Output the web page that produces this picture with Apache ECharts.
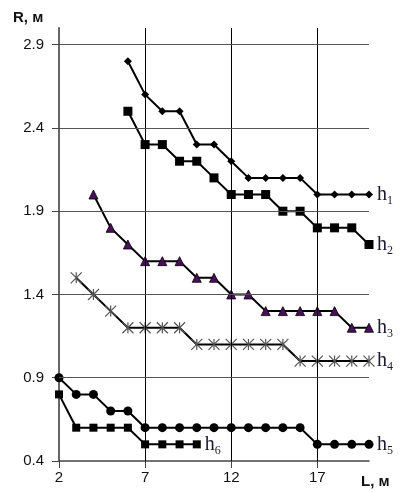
<!DOCTYPE html>
<html>
<head>
<meta charset="utf-8">
<script src="https://cdn.jsdelivr.net/npm/echarts@6/dist/echarts.min.js"></script>
<style>html,body{margin:0;padding:0;background:#fff;}#c{width:403px;height:493px;}</style>
</head>
<body>
<div id="c"></div>
<script>
const xTickLabels = [2, 7, 12, 17];
const yTickLabels = [0.4, 0.9, 1.4, 1.9, 2.4, 2.9];

const h1X = [6, 7, 8, 9, 10, 11, 12, 13, 14, 15, 16, 17, 18, 19, 20];
const h1Y = [2.8, 2.6, 2.5, 2.5, 2.3, 2.3, 2.2, 2.1, 2.1, 2.1, 2.1, 2.0, 2.0, 2.0, 2.0];

const h2X = [6, 7, 8, 9, 10, 11, 12, 13, 14, 15, 16, 17, 18, 19, 20];
const h2Y = [2.5, 2.3, 2.3, 2.2, 2.2, 2.1, 2.0, 2.0, 2.0, 1.9, 1.9, 1.8, 1.8, 1.8, 1.7];

const h3X = [4, 5, 6, 7, 8, 9, 10, 11, 12, 13, 14, 15, 16, 17, 18, 19, 20];
const h3Y = [2.0, 1.8, 1.7, 1.6, 1.6, 1.6, 1.5, 1.5, 1.4, 1.4, 1.3, 1.3, 1.3, 1.3, 1.3, 1.2, 1.2];

const h4X = [3, 4, 5, 6, 7, 8, 9, 10, 11, 12, 13, 14, 15, 16, 17, 18, 19, 20];
const h4Y = [1.5, 1.4, 1.3, 1.2, 1.2, 1.2, 1.2, 1.1, 1.1, 1.1, 1.1, 1.1, 1.1, 1.0, 1.0, 1.0, 1.0, 1.0];

const h5X = [2, 3, 4, 5, 6, 7, 8, 9, 10, 11, 12, 13, 14, 15, 16, 17, 18, 19, 20];
const h5Y = [0.9, 0.8, 0.8, 0.7, 0.7, 0.6, 0.6, 0.6, 0.6, 0.6, 0.6, 0.6, 0.6, 0.6, 0.6, 0.5, 0.5, 0.5, 0.5];

const h6X = [2, 3, 4, 5, 6, 7, 8, 9, 10];
const h6Y = [0.8, 0.6, 0.6, 0.6, 0.6, 0.5, 0.5, 0.5, 0.5];

const seriesNames = ['1', '2', '3', '4', '5', '6'];

function pairs(xs, ys) { return xs.map((x, i) => [x, ys[i]]); }

const asterisk = 'path://M0,0L10,10M10,0L0,10M5,0L5,10';

function labelCfg(idx) {
  return {
    show: true,
    distance: 8,
    formatter: '{h|h}{s|' + seriesNames[idx] + '}',
    rich: {
      h: { fontFamily: 'Liberation Serif', fontSize: 20, color: '#1b1b30', verticalAlign: 'bottom', lineHeight: 20 },
      s: { fontFamily: 'Liberation Serif', fontSize: 12, color: '#1b1b30', verticalAlign: 'bottom', lineHeight: 20, padding: [0, 0, -2, 0] }
    }
  };
}

function mk(idx, xs, ys, symbol, size, itemStyle) {
  return {
    type: 'line',
    data: pairs(xs, ys),
    symbol: symbol,
    symbolSize: size,
    showAllSymbol: true,
    lineStyle: { color: '#000', width: 2 },
    itemStyle: itemStyle,
    endLabel: labelCfg(idx),
    animation: false,
    z: idx === 3 ? 3 : 4
  };
}

const majorLines = {
  type: 'line',
  data: [],
  silent: true,
  z: 1,
  markLine: {
    silent: true,
    symbol: ['none', 'none'],
    label: { show: false },
    animation: false,
    data: [
      ...xTickLabels.slice(1).map(v => ({ xAxis: v, lineStyle: { color: '#000', width: 1, type: 'solid' } })),
      ...yTickLabels.slice(1).map(v => ({ yAxis: v, lineStyle: { color: '#555', width: 1, type: 'solid' } }))
    ]
  }
};

const chart = echarts.init(document.getElementById('c'), null, { renderer: 'canvas' });
chart.setOption({
  animation: false,
  backgroundColor: '#fff',
  grid: { left: 59, right: 34, top: 28, bottom: 32, containLabel: false },
  xAxis: {
    type: 'value', min: 2, max: 20, interval: 1,
    axisLine: { show: true, onZero: false, lineStyle: { color: '#444', width: 1.5 } },
    axisTick: { show: true, customValues: xTickLabels, length: 7, lineStyle: { color: '#444' } },
    axisLabel: { customValues: xTickLabels, fontFamily: 'Liberation Sans', fontSize: 15, color: '#111', margin: 9 },
    splitLine: { show: true, showMinLine: false, showMaxLine: false, lineStyle: { color: '#c8c8c8', width: 1 } }
  },
  yAxis: {
    type: 'value', min: 0.4, max: 3.0, interval: 0.1,
    axisLine: { show: true, onZero: false, lineStyle: { color: '#666', width: 2 } },
    axisTick: { show: true, customValues: yTickLabels, length: 7, lineStyle: { color: '#444' } },
    axisLabel: { customValues: yTickLabels, fontFamily: 'Liberation Sans', fontSize: 15, color: '#111', margin: 15,
      formatter: v => (Math.round(v * 10) / 10).toFixed(1) },
    splitLine: { show: true, showMinLine: false, showMaxLine: false, lineStyle: { color: '#c8c8c8', width: 1 } }
  },
  graphic: [
    { type: 'text', left: 13, top: 10, style: { text: 'R, м', font: 'bold 15px "Liberation Sans"', fill: '#111' } },
    { type: 'text', left: 361, top: 474, style: { text: 'L, м', font: 'bold 15px "Liberation Sans"', fill: '#111' } }
  ],
  series: [
    majorLines,
    mk(0, h1X, h1Y, 'diamond', 8, { color: '#000' }),
    mk(1, h2X, h2Y, 'rect', 9, { color: '#000' }),
    mk(2, h3X, h3Y, 'triangle', 9, { color: '#4a0f5a', borderColor: '#000', borderWidth: 0.8 }),
    mk(3, h4X, h4Y, asterisk, 11, { color: 'none', borderColor: '#555', borderWidth: 1.2 }),
    mk(4, h5X, h5Y, 'circle', 9, { color: '#000' }),
    mk(5, h6X, h6Y, 'rect', 8, { color: '#000' })
  ]
});
</script>
</body>
</html>
